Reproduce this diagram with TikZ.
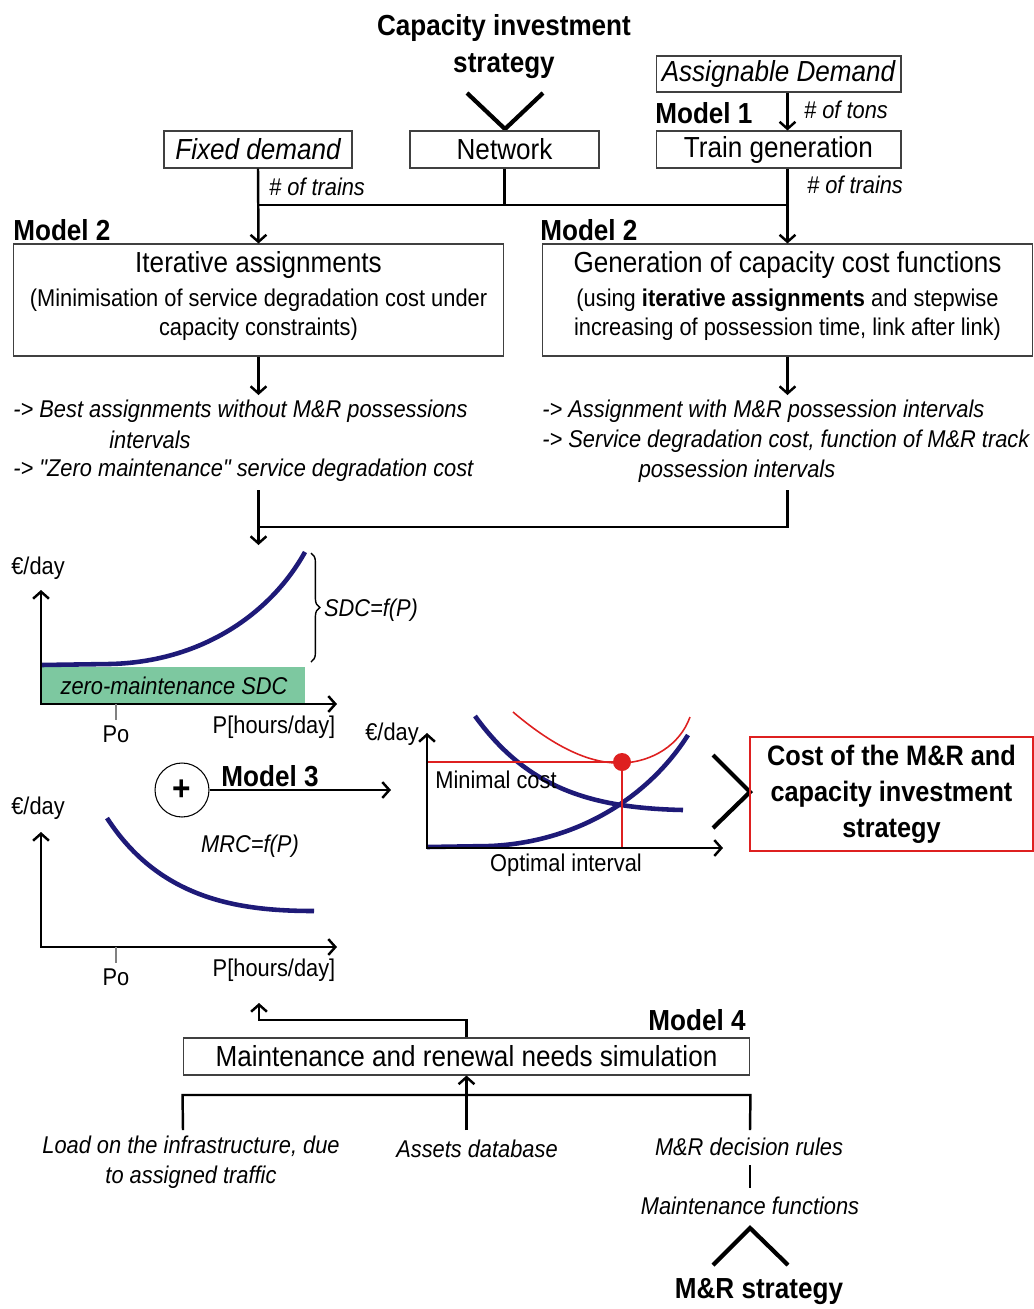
\documentclass[tikz,border=0pt]{standalone}
\usepackage{fontspec}
\setmainfont{Liberation Sans}[FakeStretch=0.9, Ligatures=TeXOff]
\usetikzlibrary{arrows.meta,decorations.pathreplacing,calc}

\definecolor{curveblue}{RGB}{30,26,120}
\definecolor{zerogreen}{RGB}{125,200,160}
\definecolor{costred}{RGB}{222,32,32}

\newcommand\fbig{\fontsize{16.5}{19}\selectfont}
\newcommand\fmid{\fontsize{13.8}{17}\selectfont}
\newcommand\fhead{\bfseries\fontsize{16.5}{21}\selectfont}

\begin{document}
\begin{tikzpicture}[x=0.02cm, y=-0.02cm,
    box/.style={draw=black!75, line width=0.6pt, inner sep=0pt, align=center, font=\fbig},
    link/.style={line width=1.4pt},
    arr/.style={line width=1.4pt, -{Straight Barb[length=4pt,width=9pt]}},
    axes/.style={line width=1.4pt, {Straight Barb[length=4pt,width=9pt]}-{Straight Barb[length=4pt,width=9pt]}},
    chev/.style={line width=2.4pt},
    bluecurve/.style={curveblue, line width=2.6pt},
    lbl/.style={font=\fmid, inner sep=1pt},
    res/.style={font=\fmid\itshape, inner sep=0pt},
    tag/.style={font=\fhead, inner sep=0pt}]

    \useasboundingbox (0,0) rectangle (1034,1309);

    % Top: demand, network and train generation
    \node[tag, align=center] (capinv) at (504,47) {Capacity investment\\strategy};
    \draw[chev] (467,93) -- (505,129) -- (543,93);
    \node[box, minimum width=3.76cm, minimum height=.74cm, font=\fbig\itshape] (fixed) at (258,149.5) {Fixed demand};
    \node[box, minimum width=3.78cm, minimum height=.74cm] (network) at (504.5,149.5) {Network};
    \node[box, minimum width=4.9cm, minimum height=.72cm, font=\fbig\itshape] (assign) at (778.5,74) {Assignable Demand};
    \node[box, minimum width=4.9cm, minimum height=.74cm] (traingen) at (778.5,149.5) {Train generation};
    \node[tag, anchor=west] (model1) at (655,113) {Model 1};
    \node[lbl, font=\fmid\itshape, anchor=west] (tons) at (802,110) {\# of tons};
    \node[lbl, font=\fmid\itshape, anchor=west] (trainsl) at (267,187) {\# of trains};
    \node[lbl, font=\fmid\itshape, anchor=west] (trainsr) at (805,185) {\# of trains};

    % Model 2 boxes
    \node[tag, anchor=west] (model2l) at (13,230) {Model 2};
    \node[tag, anchor=west] (model2r) at (540,230) {Model 2};
    \node[box, font=\fmid, minimum width=9.82cm, minimum height=2.24cm] (iter) at (258.5,300)
        {{\fbig Iterative assignments}\\[2pt] (Minimisation of service degradation cost under\\ capacity constraints)\\[-10pt]};
    \node[box, font=\fmid, minimum width=9.82cm, minimum height=2.24cm] (gen) at (787.5,300)
        {{\fbig Generation of capacity cost functions}\\[2pt] (using \textbf{iterative assignments} and stepwise\\ increasing of possession time, link after link)\\[-10pt]};

    \coordinate (jl) at (258.5,205);
    \draw[arr] (fixed.south) -- (iter.north);
    \draw[link] (network.south) -- (network.south |- jl);
    \draw[link] (jl) -- (gen.north |- jl);
    \draw[arr] (assign.south -| gen.north) -- (traingen.north -| gen.north);
    \draw[arr] (traingen.south -| gen.north) -- (gen.north);

    % Results of the assignments
    \coordinate (iterout) at (258.5,395);
    \coordinate (genout) at (787.5,395);
    \draw[arr] (iter.south) -- (iterout);
    \draw[arr] (gen.south) -- (genout);
    \node[res, anchor=west] (resl1) at (13,411) {-> Best assignments without M\&R possessions};
    \node[res] (resl2) at (150,440) {intervals};
    \node[res, anchor=west] (resl3) at (13,470) {-> "Zero maintenance" service degradation cost};
    \node[res, anchor=west] (resr1) at (542,411) {-> Assignment with M\&R possession intervals};
    \node[res, anchor=west] (resr2) at (542,441) {-> Service degradation cost, function of M\&R track};
    \node[res] (resr3) at (737,471) {possession intervals};

    \coordinate (mergel) at (258.5,490);
    \coordinate (merger) at (787.5,490);
    \coordinate (sdcin) at (258.5,545);
    \draw[arr] (mergel) -- (sdcin);
    \draw[link] (merger) |- (258.5,527);

    % SDC graph
    \fill[zerogreen] (41,667) rectangle (305,703);
    \node[res] (zeroSDC) at (174,686) {zero-maintenance SDC};
    \draw[bluecurve] (41,665) -- (110,664) .. controls (200,662) and (270,615) .. (305,552);
    \draw[axes] (41,590) -- (41,704) -- (337,704);
    \draw[decorate, decoration={brace, amplitude=5pt}, line width=0.8pt] (311,553) -- (311,662);
    \node[res] (sdc) at (371,610) {SDC=f(P)};
    \draw[gray, line width=0.6pt] (116,704) -- (116,720);
    \node[lbl] (po1) at (116,734) {Po};
    \node[lbl] (px1) at (274,727) {P[hours/day]};
    \node[lbl] (eur1) at (38,568) {€/day};

    % Sum of both costs
    \node[draw, circle, line width=0.6pt, minimum size=1.08cm, inner sep=0pt, font=\bfseries\fontsize{20}{20}\selectfont] (plus) at (182,790) {+};
    \node[tag] (model3) at (270,776) {Model 3};
    \coordinate (totin) at (391,790);
    \draw[arr] (plus.east) -- (totin);

    % MRC graph
    \draw[bluecurve] (107,818) .. controls (160,900) and (240,911) .. (314,911);
    \draw[axes] (41,832) -- (41,947) -- (337,947);
    \node[res] (mrc) at (250,846) {MRC=f(P)};
    \draw[gray, line width=0.6pt] (116,947) -- (116,963);
    \node[lbl] (po2) at (116,977) {Po};
    \node[lbl] (px2) at (274,970) {P[hours/day]};
    \node[lbl] (eur2) at (38,808) {€/day};

    % Total cost graph
    \draw[bluecurve] (427,847) -- (490,846) .. controls (580,842) and (650,795) .. (688,735);
    \draw[bluecurve] (475,716) .. controls (525,785) and (585,808) .. (683,810);
    \draw[costred, line width=0.9pt] (513,712) .. controls (560,752) and (595,764) .. (622,763)
        .. controls (652,762) and (680,745) .. (690,717);
    \draw[costred, line width=1.2pt] (427,762) -- (622,762) -- (622,848);
    \fill[costred] (622,762) circle (9);
    \draw[axes] (427,733) -- (427,848) -- (723,848);
    \node[lbl] (eur3) at (392,734) {€/day};
    \node[lbl] (mincost) at (496,780) {Minimal cost};
    \node[lbl] (optint) at (566,865) {Optimal interval};

    \draw[chev] (713,755) -- (750,792) -- (713,828);
    \node[draw=costred, line width=1.2pt, minimum width=5.66cm, minimum height=2.28cm, inner sep=0pt,
        align=center, font=\bfseries\fontsize{16}{20.5}\selectfont] (cost) at (891.5,794)
        {Cost of the M\&R and\\capacity investment\\strategy};

    % Model 4
    \node[tag] (model4) at (697,1020) {Model 4};
    \node[box, minimum width=11.34cm, minimum height=.74cm] (mrsim) at (466.5,1056.5)
        {Maintenance and renewal needs simulation};
    \coordinate (mrcin) at (259,1003);
    \draw[arr] (mrsim.north) |- (259,1020) -- (mrcin);

    \node[res, align=center] (load) at (191,1162) {Load on the infrastructure, due\\to assigned traffic};
    \node[res] (assets) at (477,1149) {Assets database};
    \node[res] (rules) at (749,1147) {M\&R decision rules};
    \node[res] (funcs) at (750,1206) {Maintenance functions};
    \coordinate (inl) at (183,1130);
    \coordinate (inr) at (750,1130);
    \draw[link] (inl) -- (mrsim.west |- 0,1095) -- (mrsim.east |- 0,1095) -- (inr);
    \draw[arr] (466.5,1130) -- (mrsim.south);
    \draw[link, shorten <=5pt, shorten >=5pt] (rules.south -| inr) -- (funcs.north -| inr);

    \draw[chev] (713,1265) -- (750,1228) -- (788,1265);
    \node[tag] (mrstrat) at (759,1292) {M\&R strategy};
\end{tikzpicture}
\end{document}
